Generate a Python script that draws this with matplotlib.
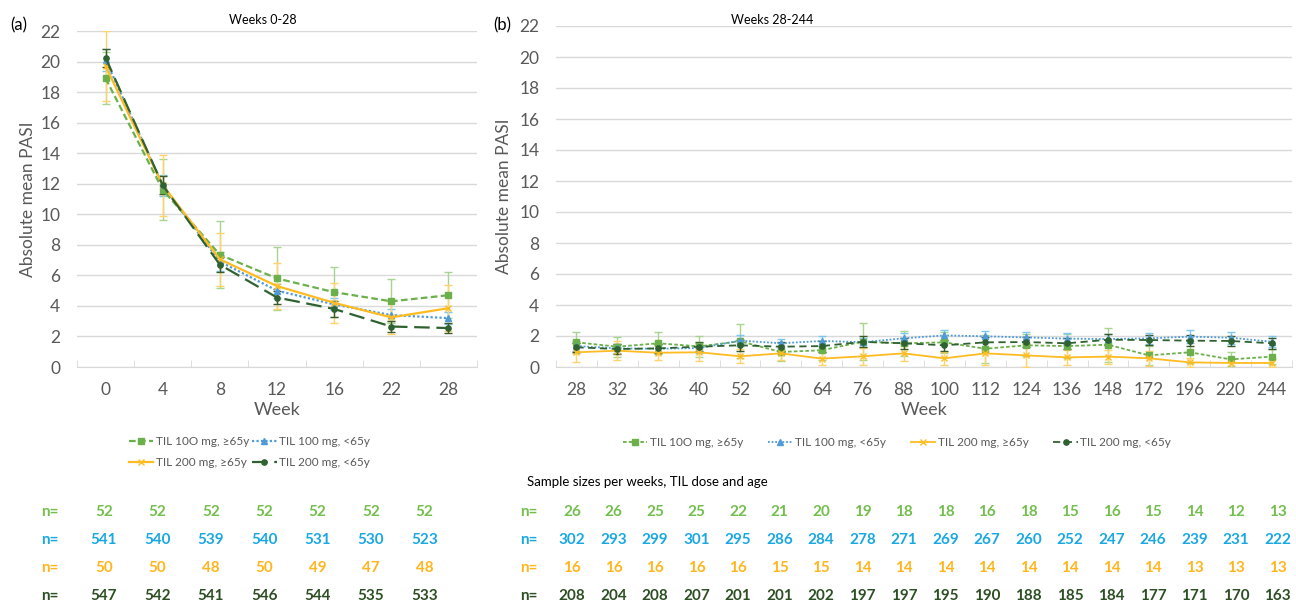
import numpy as np
import matplotlib
matplotlib.use('Agg')
import matplotlib.pyplot as plt

plt.rcParams['font.family'] = ['Lato', 'DejaVu Sans']

# ---- data ----
weeks_a = ['0', '4', '8', '12', '16', '22', '28']
weeks_b = ['28', '32', '36', '40', '52', '60', '64', '76', '88', '100', '112',
           '124', '136', '148', '172', '196', '220', '244']

labels = ['TIL 10O mg, ≥65y', 'TIL 100 mg, <65y', 'TIL 200 mg, ≥65y', 'TIL 200 mg, <65y']

# panel (a) means and error half-widths
a_g = [18.9, 11.6, 7.35, 5.8, 4.9, 4.3, 4.7]
a_g_err = [1.7, 2.0, 2.2, 2.05, 1.65, 1.45, 1.5]
a_b = [20.1, 11.9, 6.9, 5.0, 4.1, 3.4, 3.2]
a_b_err = [0.75, 0.7, 0.6, 0.45, 0.4, 0.4, 0.4]
a_o = [19.7, 11.9, 7.05, 5.3, 4.2, 3.25, 3.85]
a_o_err = [2.3, 2.0, 1.75, 1.5, 1.3, 1.1, 1.5]
a_dg = [20.25, 11.9, 6.7, 4.55, 3.8, 2.65, 2.55]
a_dg_err = [0.6, 0.6, 0.5, 0.45, 0.5, 0.35, 0.3]

# panel (b)
b_g = [1.59, 1.31, 1.53, 1.33, 1.66, 0.97, 1.08, 1.63, 1.53, 1.59, 1.18, 1.4, 1.35,
       1.44, 0.75, 0.95, 0.49, 0.67]
b_g_err = [0.7, 0.65, 0.7, 0.7, 1.1, 0.6, 0.6, 1.2, 0.8, 0.7, 0.9, 0.7, 0.8,
           1.1, 0.6, 0.7, 0.45, 0.5]
b_b = [1.35, 1.2, 1.18, 1.22, 1.7, 1.53, 1.68, 1.6, 1.85, 2.04, 1.98, 1.91, 1.83,
       1.8, 1.85, 1.96, 1.89, 1.63]
b_b_err = [0.3, 0.3, 0.3, 0.3, 0.35, 0.3, 0.35, 0.3, 0.35, 0.35, 0.35, 0.35,
           0.35, 0.35, 0.35, 0.4, 0.4, 0.35]
b_o = [0.95, 1.05, 0.92, 0.95, 0.69, 0.88, 0.54, 0.69, 0.88, 0.56, 0.88, 0.75,
       0.62, 0.67, 0.56, 0.3, 0.26, 0.26]
b_o_err = [0.6, 0.6, 0.5, 0.55, 0.45, 0.45, 0.4, 0.55, 0.5, 0.4, 0.75, 0.75,
           0.5, 0.45, 0.5, 0.3, 0.3, 0.25]
b_dg = [1.27, 1.16, 1.2, 1.31, 1.4, 1.31, 1.35, 1.62, 1.53, 1.4, 1.59, 1.61, 1.53,
        1.76, 1.74, 1.7, 1.68, 1.53]
b_dg_err = [0.3, 0.3, 0.3, 0.3, 0.35, 0.3, 0.35, 0.35, 0.35, 0.35, 0.35, 0.35,
            0.35, 0.35, 0.35, 0.35, 0.35, 0.35]

# sample sizes
n_a = [[52, 52, 52, 52, 52, 52, 52],
       [541, 540, 539, 540, 531, 530, 523],
       [50, 50, 48, 50, 49, 47, 48],
       [547, 542, 541, 546, 544, 535, 533]]
n_b = [[26, 26, 25, 25, 22, 21, 20, 19, 18, 18, 16, 18, 15, 16, 15, 14, 12, 13],
       [302, 293, 299, 301, 295, 286, 284, 278, 271, 269, 267, 260, 252, 247, 246, 239, 231, 222],
       [16, 16, 16, 16, 16, 15, 15, 14, 14, 14, 14, 14, 14, 14, 14, 13, 13, 13],
       [208, 204, 208, 207, 201, 201, 202, 197, 197, 195, 190, 188, 185, 184, 177, 171, 170, 163]]

# ---- styles ----
line_cols = ['#6BB04A', '#4E9BD8', '#FFBB22', '#2F6230']
err_cols = ['#A8D58E', '#7CC8EE', '#FFD36A', '#3A5A2A']
table_cols = ['#74BE4E', '#1AA8E2', '#FFB61E', '#2C4F24']
markers = ['s', '^', 'x', 'o']
grey = '#595959'

W, H = 1296, 604
fig = plt.figure(figsize=(12.96, 6.04), dpi=100)


def px(x, y):
    return x / W, 1 - y / H


def style_axis(ax, cats, ylabelpad):
    n = len(cats)
    ax.set_xlim(-0.5, n - 0.5)
    ax.set_ylim(0, 22)
    ax.set_yticks(np.arange(0, 23, 2))
    ax.set_xticks(np.arange(n))
    ax.set_xticklabels(cats)
    ax.set_xticks(np.arange(-0.5, n, 1), minor=True)
    ax.tick_params(axis='x', which='major', length=0, pad=11, labelsize=12.5, colors=grey)
    ax.tick_params(axis='x', which='minor', length=5, direction='in', color='#D9D9D9')
    ax.tick_params(axis='y', length=0, pad=12, labelsize=12.5, colors=grey)
    ax.grid(axis='y', color='#D9D9D9', linewidth=1)
    ax.set_axisbelow(True)
    for s in ['top', 'right', 'left']:
        ax.spines[s].set_visible(False)
    ax.spines['bottom'].set_color('#D9D9D9')
    ax.spines['bottom'].set_zorder(0)
    ax.set_xlabel('Week', fontsize=13, color=grey, labelpad=3)
    ax.set_ylabel('Absolute mean PASI', fontsize=12.5, color=grey, labelpad=ylabelpad)


# ---- panel (a) ----
ax1 = fig.add_axes([77 / W, 1 - 367 / H, 400 / W, 336 / H])
xa = np.arange(len(weeks_a))
series_a = [(a_g, a_g_err), (a_b, a_b_err), (a_o, a_o_err), (a_dg, a_dg_err)]
styles_a = [(0, (3, 1.5)), (0, (1, 1)), '-', (0, (7, 3))]
handles_a = []
for i, (vals, errs) in enumerate(series_a):
    ax1.errorbar(xa, vals, yerr=errs, fmt='none', ecolor=err_cols[i], elinewidth=1,
                 capsize=3, capthick=1, zorder=2)
    h, = ax1.plot(xa, vals, color=line_cols[i], linestyle=styles_a[i], linewidth=1.6,
                  marker=markers[i], markersize=3.8, markeredgewidth=1, zorder=3 + i * 0.1)
    handles_a.append(h)
style_axis(ax1, weeks_a, 3)
fig.text(*px(19, 25), '(a)', fontsize=12, va='center', ha='center')
fig.text(*px(263, 20), 'Weeks 0-28', fontsize=9, va='center', ha='center')

# ---- panel (b) ----
ax2 = fig.add_axes([556 / W, 1 - 367 / H, 736 / W, 341 / H])
xb = np.arange(len(weeks_b))
series_b = [(b_g, b_g_err), (b_b, b_b_err), (b_o, b_o_err), (b_dg, b_dg_err)]
styles_b = [(0, (2, 1.2)), (0, (1, 1)), '-', (0, (4, 2.5))]
handles_b = []
for i, (vals, errs) in enumerate(series_b):
    ax2.errorbar(xb, vals, yerr=errs, fmt='none', ecolor=err_cols[i], elinewidth=1,
                 capsize=3, capthick=1, zorder=2)
    h, = ax2.plot(xb, vals, color=line_cols[i], linestyle=styles_b[i], linewidth=1.3,
                  marker=markers[i], markersize=3.8, markeredgewidth=1, zorder=3 + i * 0.1)
    handles_b.append(h)
style_axis(ax2, weeks_b, 5)
fig.text(*px(502, 25), '(b)', fontsize=12, va='center', ha='center')
fig.text(*px(772, 20), 'Weeks 28-244', fontsize=9, va='center', ha='center')

# ---- legends ----
fig.legend([handles_a[0], handles_a[2], handles_a[1], handles_a[3]],
           [labels[0], labels[2], labels[1], labels[3]],
           ncol=2, loc='center left', bbox_to_anchor=px(118, 452), frameon=False,
           fontsize=8.5, handlelength=2.1, handletextpad=0.2, columnspacing=0.25,
           labelspacing=0.8, labelcolor=grey)
fig.legend(handles_b, labels, ncol=4, loc='center left', bbox_to_anchor=px(612, 443),
           frameon=False, fontsize=8.5, handlelength=2.1, handletextpad=0.2,
           columnspacing=2.1, labelcolor=grey)

fig.text(*px(527, 482), 'Sample sizes per weeks, TIL dose and age', fontsize=9.5,
         va='center', ha='left')

# ---- sample size tables ----
row_y = [512, 540, 568, 596]
for r in range(4):
    fig.text(*px(50, row_y[r]), 'n=', color=table_cols[r], fontsize=11, fontweight='bold',
             ha='center', va='center')
    for j, v in enumerate(n_a[r]):
        fig.text(*px(104 + j * 53.4, row_y[r]), str(v), color=table_cols[r], fontsize=11,
                 fontweight='bold', ha='center', va='center')
    fig.text(*px(529, row_y[r]), 'n=', color=table_cols[r], fontsize=11, fontweight='bold',
             ha='center', va='center')
    for j, v in enumerate(n_b[r]):
        fig.text(*px(572 + j * 41.5, row_y[r]), str(v), color=table_cols[r], fontsize=11,
                 fontweight='bold', ha='center', va='center')

fig.savefig('out.png', dpi=100)
